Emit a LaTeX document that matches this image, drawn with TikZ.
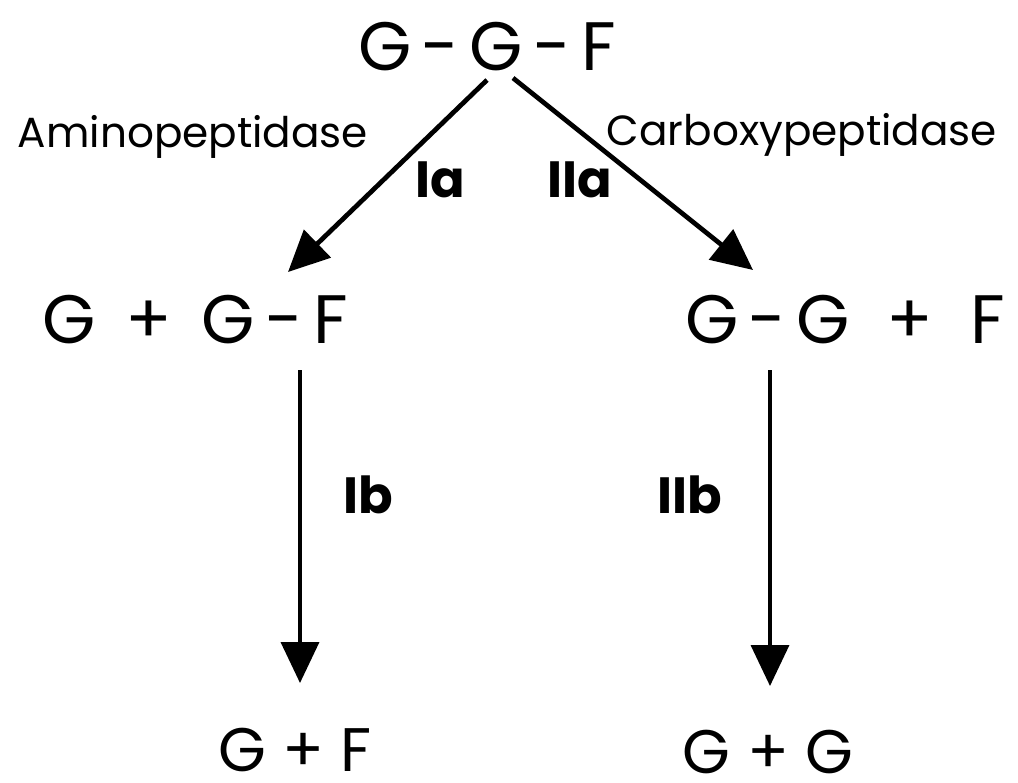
\documentclass[tikz,border=0pt]{standalone}
\usepackage{fontspec}
\setmainfont{Poppins}
\usetikzlibrary{arrows.meta}

\newcommand{\bond}{\hspace{0.15em}-\hspace{0.15em}}

\begin{document}
\begin{tikzpicture}[x=0.02cm, y=-0.02cm,
                    >={Triangle[length=0.82cm,width=0.76cm]},
                    every node/.style={inner sep=0pt},
                    peptide/.style={font=\fontsize{39}{39}\selectfont},
                    product/.style={font=\fontsize{35}{35}\selectfont},
                    enzyme/.style={font=\fontsize{24}{24}\selectfont},
                    stepname/.style={font=\fontsize{29}{29}\selectfont\bfseries},
                    cleave/.style={->, line width=2.7pt}]
\useasboundingbox (0,0) rectangle (1018,782);
% peptides
\node[peptide] (GGF)  at (487,47)  {G\bond G\bond F};
\node[peptide] (GpGF) at (195,320) {G \,+\, G\bond F};
\node[peptide] (GGpF) at (845,320) {G\bond G \ + \ F};
\node[product] (GpF)  at (295,750) {G + F};
\node[product] (GpG)  at (768,752) {G + G};
% arrow ends
\coordinate (ia0)  at (487,80);
\coordinate (ia1)  at (288,272);
\coordinate (iia0) at (513,78);
\coordinate (iia1) at (753,270);
\coordinate (ib0)  at (300,370);
\coordinate (ib1)  at (300,683);
\coordinate (iib0) at (770,370);
\coordinate (iib1) at (770,686);
\draw[cleave] (ia0)  -- (ia1);
\draw[cleave] (iia0) -- (iia1);
\draw[cleave, line width=2.1pt] (ib0)  -- (ib1);
\draw[cleave, line width=2.1pt] (iib0) -- (iib1);
% labels
\node[enzyme]   (amino)   at (193,137) {Aminopeptidase};
\node[enzyme]   (carboxy) at (802,135) {Carboxypeptidase};
\node[stepname] (Ia)  at (440,180) {Ia};
\node[stepname] (IIa) at (580,180) {IIa};
\node[stepname] (Ib)  at (368,495) {Ib};
\node[stepname] (IIb) at (690,495) {IIb};
\end{tikzpicture}
\end{document}
